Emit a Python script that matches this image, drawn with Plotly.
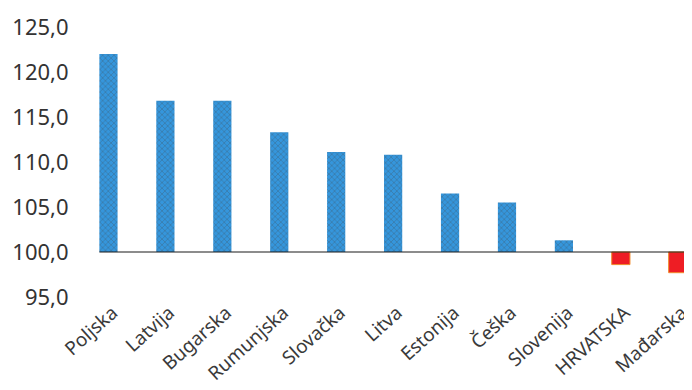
import plotly.graph_objects as go

countries = ["Poljska", "Latvija", "Bugarska", "Rumunjska", "Slovačka", "Litva",
             "Estonija", "Češka", "Slovenija", "HRVATSKA", "Mađarska"]
values = [122.0, 116.8, 116.8, 113.3, 111.1, 110.8, 106.5, 105.5, 101.3, 98.6, 97.7]
baseline = 100.0
y_ticks = [95, 100, 105, 110, 115, 120, 125]

blue = "#3596dc"
red = "#ee1d24"
colors = [blue if v >= baseline else red for v in values]
patterns = ["x" if v >= baseline else "" for v in values]
line_colors = ["rgba(0,0,0,0)" if v >= baseline else "#f08a2a" for v in values]

fig = go.Figure()
fig.add_trace(go.Bar(
    x=countries,
    y=[v - baseline for v in values],
    base=[baseline] * len(values),
    marker=dict(
        color=colors,
        line=dict(color=line_colors, width=1),
        pattern=dict(shape=patterns, fgcolor="#1f66b8", bgcolor=colors,
                     size=4, solidity=0.25),
    ),
    width=0.32,
    hoverinfo="skip",
))

fig.add_shape(type="line", xref="x", yref="y", x0=-0.16, x1=11, y0=baseline, y1=baseline,
              line=dict(color="#1a1a1a", width=1.2))

# the page body adds an 8px offset, so the figure is 8px smaller each way
fig.update_layout(
    width=684, height=382,
    margin=dict(l=72, r=0, t=19, b=93, pad=0),
    paper_bgcolor="white", plot_bgcolor="white",
    separators=",.",
    showlegend=False,
    font=dict(family="Noto Sans", color="#333333"),
    bargap=0.68,
)
fig.update_xaxes(
    range=[-0.5, 10.25],
    tickangle=-42,
    tickfont=dict(size=19, color="#3a3a3a"),
    ticklabelshift=4,
    showgrid=False, showline=False, zeroline=False,
    ticks="", automargin=False,
)
fig.update_yaxes(
    range=[95, 125],
    tickvals=y_ticks,
    tickformat=".1f",
    tickfont=dict(size=22, color="#333333"),
    showgrid=False, showline=False, zeroline=False,
    ticks="outside", ticklen=6, tickcolor="rgba(0,0,0,0)",
    automargin=False,
)

fig.write_html("out.html")
